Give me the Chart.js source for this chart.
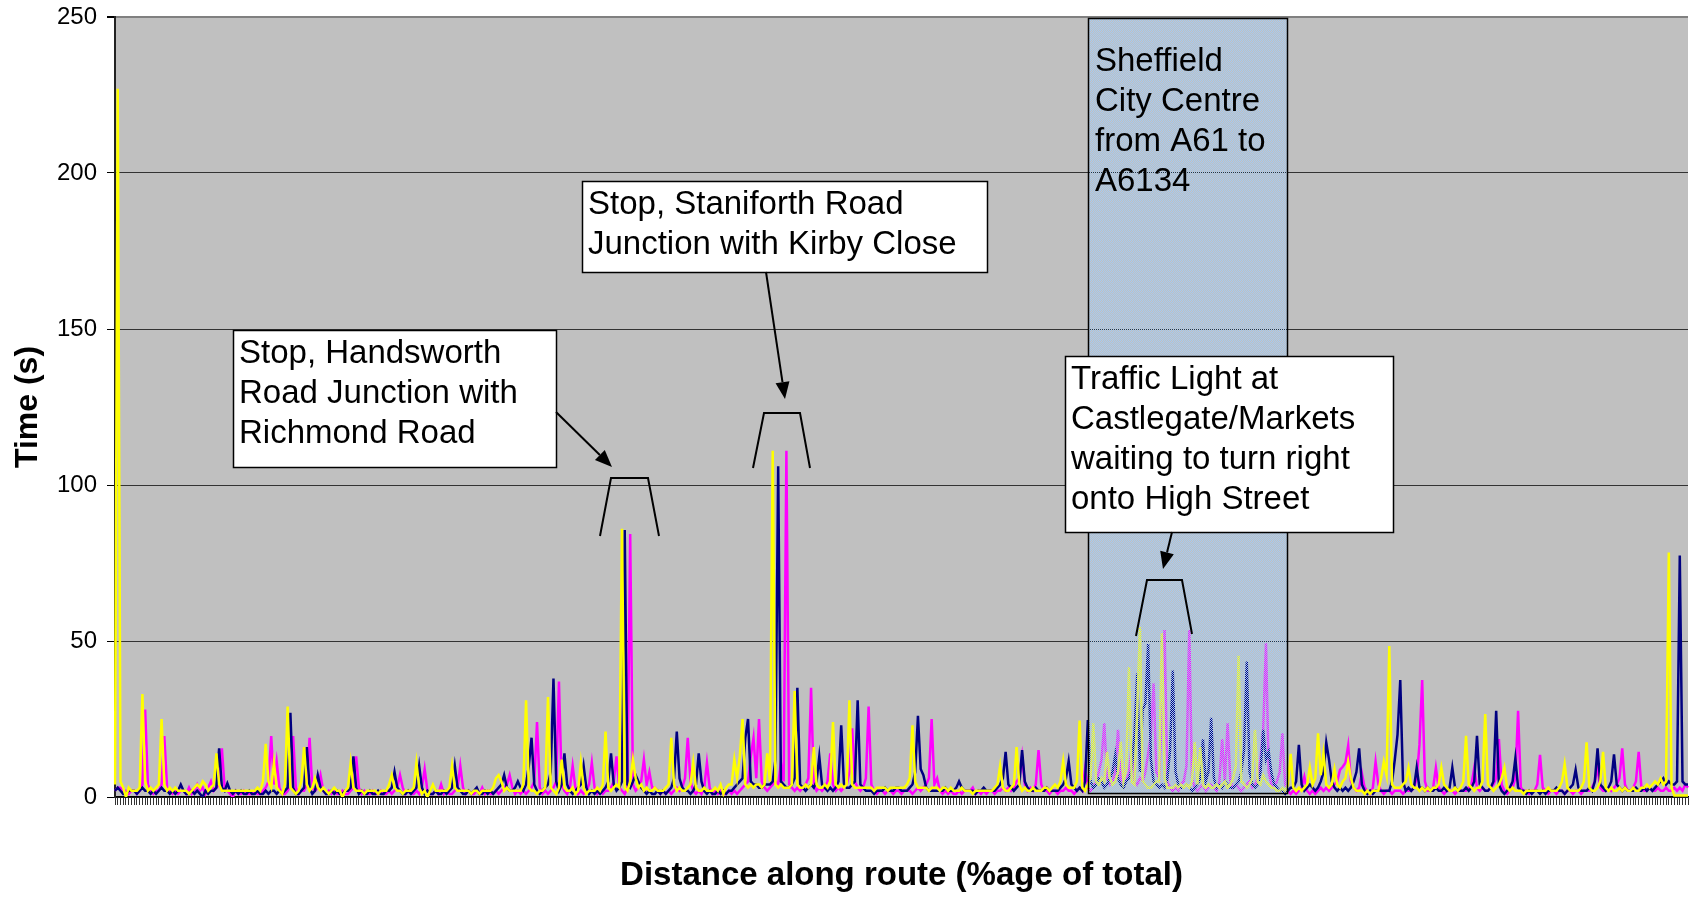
<!DOCTYPE html>
<html>
<head>
<meta charset="utf-8">
<script src="https://cdn.jsdelivr.net/npm/chart.js@4.4.1/dist/chart.umd.min.js"></script>
<style>
  html, body { margin: 0; padding: 0; background: #fff; }
  #wrap { width: 1690px; height: 897px; }
</style>
</head>
<body>
<div id="wrap"><canvas id="route-chart" width="1690" height="897"></canvas></div>
<script>
// time spent (s) at each sample along the route, three runs
const runYellow = [
  4,227,5,3,0,3,2,2,2,3,33,5,2,3,2,3,4,25,4,2,3,2,3,2,2,
  2,2,1,2,3,4,3,5,4,2,3,4,14,4,2,2,2,2,2,2,2,2,2,2,2,
  2,2,3,2,5,17,5,3,11,3,2,1,4,29,3,2,1,2,5,16,4,2,3,6,3,
  2,3,2,1,2,3,2,2,0,2,3,11,3,2,2,2,1,2,2,2,2,1,2,2,2,
  4,7,3,2,2,1,2,2,2,3,11,3,1,2,0,2,4,2,2,2,2,2,3,10,3,
  2,2,2,2,2,1,2,2,1,2,2,2,2,3,6,7,5,2,3,2,2,2,2,2,4,
  31,3,2,2,1,2,2,3,32,3,2,1,3,12,3,2,2,3,1,2,11,3,1,2,2,
  2,3,2,4,21,3,2,3,4,3,86,3,2,5,12,6,3,4,2,3,2,2,3,2,2,
  2,3,4,19,4,2,3,2,2,3,4,11,3,2,2,3,2,2,2,3,2,4,1,3,4,
  4,12,6,13,25,4,3,4,3,4,4,3,4,14,5,111,4,3,4,3,3,3,4,34,4,
  3,3,4,3,4,16,4,3,3,4,3,5,24,4,3,4,3,4,31,4,3,3,3,3,3,
  3,3,2,3,3,3,3,2,3,3,3,3,3,3,4,6,23,5,3,3,3,3,2,3,3,
  3,2,3,3,2,3,2,2,2,3,2,2,2,1,2,2,2,2,2,2,2,3,4,10,3,
  2,2,3,4,16,4,2,3,2,2,3,2,2,2,3,3,2,3,4,3,5,11.5,4,3,3,
  3,5,24.5,3,2,4,6,23.6,5,4,6,5,14.5,6,4,5,8,17.7,5,9,41.6,5,4,27,54.4,
  5,4,3,3,4,5,5,52.5,6,3,3,3,4,3,4,3,4,3,5,17.5,4,16,4,3,4,
  3,3,4,3,4,5,3,4,6,10,45.3,5,4,3,4,6,21.5,5,4,7,5,4,3,3,2,
  2,3,2,4,13.8,3,2,3,2,3,4,9.5,4,6,20.4,7,14,4,3,4,9,4,3,5,6,
  11.3,6,3,2,2,2,1,2,1,2,2,2,6,11.3,7,48.4,4,3,3,3,4,5,9.4,4,3,
  3,2,3,2,3,2,3,3,4,9.4,4,3,2,2,3,2,3,5,19.6,4,3,2,3,3,5,
  26.6,4,3,2,3,4,6,9.4,3,2,3,2,2,2,1,2,2,2,2,2,2,2,2,3,2,
  2,2,3,5,10.5,3,2,2,2,2,3,5,17.5,3,2,2,3,5,14.5,3,2,3,2,2,3,
  2,3,2,2,3,2,2,3,3,4,3,4,5,4,6,4,5,78.4,3,0.5,0.5,0.5,0.5,0.5,0.5
];

const runNavy = [
  2,3,2,1,1,2,2,2,1,2,3,2,2,1,2,1,2,3,2,2,1,2,1,2,4,
  2,1,1,2,1,2,1,0,2,1,2,2,3,15.6,3,2,4.4,2,1,2,1,2,1,1,2,
  1,1,2,1,1,2,1,2,2,1,2,1,2,3,27,3,1,1,2,3,16,3,1,2,7,
  3,2,1,1,2,1,2,1,1,2,2,3,13,3,1,2,1,1,2,1,1,2,1,1,2,
  2,3,8,3,2,1,1,2,1,2,3,10,3,1,2,1,1,2,1,1,2,1,2,3,10,
  3,2,1,1,2,1,2,3,1,1,2,1,2,1,2,3,4,7,3,2,2,3,5,3,2,
  4,10,19,4,2,1,2,3,4,8,38,5,2,4,14,4,2,1,2,3,4,10,3,1,2,
  1,2,1,2,3,5,14,4,2,3,5,85.6,4,3,5,7,5,3,2,1,2,1,1,2,1,
  2,1,2,3,6,21,6,3,2,2,1,2,4,14,5,2,1,2,1,1,2,1,2,1,2,
  2,3,4,5,6,19,25,5,4,4,3,3,4,4,4,5,12,106,5,4,3,3,4,6,35,
  4,3,2,3,4,3,5,13,4,3,2,3,2,3,5,23,4,3,3,4,5,31,4,3,2,
  2,2,1,2,2,2,3,2,2,2,3,3,2,2,2,3,4,8,26,9,7,3,2,2,2,
  2,2,2,3,2,2,2,3,5,3,2,2,2,2,1,2,2,3,2,2,2,2,3,4,6,
  14.5,4,3,2,3,4,15,5,3,2,2,3,2,2,2,3,2,2,2,2,3,4,6,11.5,4,
  3,2,3,2,5,24.7,5,3,4,6,5,3,4,6,8,13.5,6,4,3,5,6,9,20,39.6,8,
  28,30,49,12,5,4,3,4,3,6,15,40.5,8,4,3,3,4,3,2,3,4,6,18.5,5,8,
  25.4,6,3,4,3,5,4,3,3,4,5,8,15,43.4,8,4,3,4,8,21.5,12,14.5,7.6,4,3,
  2,2,1,2,3,3,5,16.7,4,2,3,4,3,2,3,5,8,17.5,12,5,3,2,3,2,3,
  2,3,5,8,15.6,4,2,1,2,1,2,2,2,2,2,2,5,11.9,20,37.5,5,2,3,2,3,
  9.4,3,3,2,3,2,2,3,2,2,3,2,3,9.4,3,2,2,2,3,2,3,5,19.6,4,3,
  2,2,3,5,27.6,4,2,1,2,3,5,12.4,3,2,2,1,2,1,2,2,1,2,1,2,2,
  2,3,2,2,1,2,3,4,8.7,3,2,2,2,3,2,5,15.6,4,3,2,3,5,13.7,4,3,
  2,3,2,2,2,3,2,2,3,2,3,2,3,4,5,6,4,5,4,4,5,77.4,5,4,4
];

const runMagenta = [
  2,3,3,2,2,1,2,2,1,2,4,28,4,2,1,2,2,4,19.5,3,2,1,2,1,2,
  2,1,3,1,2,4,2,3,1,3,5,2,3,4,15.6,3,2,1,0,2,1,1,2,1,1,
  1,2,1,1,2,3,5,19.5,4,11.3,3,1,1,2,4,19.5,3,1,2,2,4,19,3,2,3,
  7,2,1,2,1,2,1,1,2,1,1,2,3,13,3,1,2,1,1,2,1,1,2,1,1,
  2,1,2,3,7,3,1,2,1,1,2,1,3,9,2,1,1,2,1,4,1,2,1,1,2,
  3,10,3,1,2,1,1,2,1,3,1,2,1,1,2,1,2,3,4,7,3,1,2,1,2,
  1,2,3,5,24,3,1,2,1,2,3,5,37,4,2,1,3,10,3,1,2,1,2,4,11,
  3,1,2,1,2,2,3,5,13,3,2,1,3,84.3,4,2,3,5,12,4,8,3,3,2,1,
  2,1,2,1,2,3,2,3,6,19,5,2,1,2,1,3,11,3,1,2,1,2,1,1,2,
  1,2,1,2,3,4,5,13,19,6,25,5,3,2,3,4,5,4,11,5,111,4,3,2,3,
  2,3,4,6,35,4,2,3,2,3,5,14,4,2,3,2,3,4,8,22,5,3,2,3,6,
  29,4,2,1,2,2,1,2,2,1,2,2,1,2,2,2,1,2,3,2,3,4,6,25,4,
  6,2,1,2,1,2,1,1,2,1,2,2,2,3,1,2,1,2,1,2,2,1,2,2,3,
  2,3,2,3,5,6,13,4,2,3,2,4,15,4,2,2,1,2,2,1,2,2,3,2,2,
  1,2,3,2,9,3,2,3,5,8,12,23.6,6,4,5,8,21.5,6,4,5,8,16,5,4,6,
  5,8,14,20,36.4,8,6,27,53.5,5,3,2,3,2,4,5,10,53.5,6,3,2,3,4,2,3,
  4,3,2,5,18.5,5,23.6,5,3,4,3,2,3,4,5,3,4,6,12,22,49.3,8,4,3,5,
  8,20.4,4,2,1,2,1,2,3,6.5,2,1,2,1,2,3,2,3,2,3,4,5,8.7,9.7,11,
  16.5,5,3,2,3,7.6,3,2,1,3,11.3,4,2,1,2,2,1,2,2,2,1,2,2,2,3,
  6,16.7,37.5,5,2,2,3,9.4,3,2,1,2,2,2,1,2,2,2,2,3,4,9.4,3,2,3,
  2,2,3,4,6,18.6,4,2,1,2,3,6,27.6,3,2,2,1,2,2,4,13.5,3,2,1,2,
  2,1,2,2,1,2,2,1,2,2,1,2,2,2,3,5,9.4,3,2,2,3,2,3,4,6,
  15.6,4,2,2,3,5,14.5,3,2,2,3,2,2,3,2,2,3,2,2,3,2,3,2,4,3
];

// category labels: percentage of route length for each sample
const distance = runYellow.map((_, i) => (i / (runYellow.length - 1) * 100).toFixed(1));
const timeTicks = [0, 50, 100, 150, 200, 250];

// callouts, positioned in data units (sample index, seconds)
const cityBand = {
  box: [354.9, 249.7, 427.8, 1.3],
  lines: ['Sheffield', 'City Centre', 'from A61 to', 'A6134'],
};
const callouts = [
  {
    lines: ['Stop, Handsworth', 'Road Junction with', 'Richmond Road'],
    box: [43.1, 149.7, 160.9, 105.8],
    arrow: [160.9, 123.4, 181.4, 105.8],
    bracket: [177.0, 83.7, 181.0, 102.2, 194.5, 102.2, 198.5, 83.7],
  },
  {
    lines: ['Stop, Staniforth Road', 'Junction with Kirby Close'],
    box: [170.4, 197.4, 318.2, 168.3],
    arrow: [237.6, 168.3, 244.5, 127.6],
    bracket: [232.8, 105.4, 236.8, 123.1, 250.0, 123.1, 253.6, 105.4],
  },
  {
    lines: ['Traffic Light at', 'Castlegate/Markets', 'waiting to turn right', 'onto High Street'],
    box: [346.7, 141.3, 466.3, 84.9],
    arrow: [385.7, 84.9, 382.4, 73.1],
    bracket: [372.6, 51.6, 376.6, 69.6, 389.4, 69.6, 393.0, 52.2],
  },
];

const FONT = '"Liberation Sans", Arial, Helvetica, sans-serif';

// 50% dither used by the city centre band, drawn over the lines
const tile = document.createElement('canvas');
tile.width = 2;
tile.height = 2;
const tileCtx = tile.getContext('2d');
tileCtx.fillStyle = '#a6caf0';
tileCtx.fillRect(0, 0, 1, 1);
tileCtx.fillRect(1, 1, 1, 1);

const routeDecor = {
  id: 'routeDecor',
  beforeDraw(chart) {
    const { ctx, chartArea: a } = chart;
    ctx.save();
    ctx.fillStyle = '#c0c0c0';
    ctx.fillRect(a.left, a.top, a.right - a.left, a.bottom - a.top);
    ctx.restore();
  },
  afterDatasetsDraw(chart) {
    const { ctx, scales } = chart;
    const px = (v) => Math.round(scales.x.getPixelForValue(v));
    const py = (v) => Math.round(scales.y.getPixelForValue(v));

    ctx.save();
    ctx.font = '33px ' + FONT;
    ctx.textBaseline = 'middle';
    ctx.textAlign = 'left';

    // city centre band
    const [cx0, cy0, cx1, cy1] = cityBand.box;
    const L = px(cx0), T = py(cy0), R = px(cx1), B = py(cy1);
    ctx.fillStyle = ctx.createPattern(tile, 'repeat');
    ctx.fillRect(L, T, R - L, B - T);
    ctx.strokeStyle = '#000';
    ctx.lineWidth = 1.5;
    ctx.strokeRect(L + 0.5, T + 0.5, R - L, B - T);
    ctx.fillStyle = '#000';
    cityBand.lines.forEach((t, k) => ctx.fillText(t, L + 7, T + 44 + k * 40));

    callouts.forEach((c) => {
      const [bx0, by0, bx1, by1] = c.box;
      const l = px(bx0), t = py(by0), r = px(bx1), b = py(by1);
      ctx.fillStyle = '#fff';
      ctx.fillRect(l, t, r - l, b - t);
      ctx.strokeStyle = '#000';
      ctx.lineWidth = 1.5;
      ctx.strokeRect(l + 0.5, t + 0.5, r - l, b - t);
      ctx.fillStyle = '#000';
      c.lines.forEach((line, k) => ctx.fillText(line, l + 6, t + 24 + k * 40));

      // arrow with filled head
      const [ax0, ay0, ax1, ay1] = c.arrow;
      const sx = px(ax0), sy = py(ay0), ex = px(ax1), ey = py(ay1);
      const ang = Math.atan2(ey - sy, ex - sx);
      const head = 17, half = 7;
      const bxh = ex - head * Math.cos(ang), byh = ey - head * Math.sin(ang);
      ctx.lineWidth = 2;
      ctx.beginPath();
      ctx.moveTo(sx, sy);
      ctx.lineTo(bxh, byh);
      ctx.stroke();
      ctx.beginPath();
      ctx.moveTo(ex, ey);
      ctx.lineTo(bxh + half * Math.sin(ang), byh - half * Math.cos(ang));
      ctx.lineTo(bxh - half * Math.sin(ang), byh + half * Math.cos(ang));
      ctx.closePath();
      ctx.fill();

      // bracket over the peaks
      const k = c.bracket;
      ctx.lineWidth = 2;
      ctx.beginPath();
      ctx.moveTo(px(k[0]), py(k[1]));
      ctx.lineTo(px(k[2]), py(k[3]));
      ctx.lineTo(px(k[4]), py(k[5]));
      ctx.lineTo(px(k[6]), py(k[7]));
      ctx.stroke();
    });
    ctx.restore();
  },
};

const lineStyle = { borderWidth: 2.5, pointRadius: 0, tension: 0, fill: false };

new Chart(document.getElementById('route-chart'), {
  type: 'line',
  data: {
    labels: distance,
    datasets: [
      { label: 'Run 1', data: runYellow, borderColor: '#ffff00', ...lineStyle },
      { label: 'Run 2', data: runNavy, borderColor: '#000080', ...lineStyle },
      { label: 'Run 3', data: runMagenta, borderColor: '#ff00ff', ...lineStyle },
    ],
  },
  options: {
    responsive: false,
    animation: false,
    devicePixelRatio: 1,
    layout: { padding: { top: 17, right: 2, left: 0, bottom: 0 } },
    plugins: {
      legend: { display: false },
      tooltip: { enabled: false },
    },
    scales: {
      x: {
        type: 'category',
        afterFit: (scale) => {
          scale.height = 100;
          scale.paddingLeft = 0;
          scale.paddingRight = 0;
        },
        ticks: { display: false, autoSkip: false },
        grid: {
          display: true,
          drawOnChartArea: false,
          drawTicks: true,
          tickLength: 8,
          tickColor: '#333',
          lineWidth: 1,
        },
        border: { color: '#000', width: 1.5 },
        title: {
          display: true,
          text: 'Distance along route (%age of total)',
          color: '#000',
          font: { family: FONT, size: 33, weight: 'bold' },
          padding: { top: 0, bottom: 1 },
        },
      },
      y: {
        min: 0,
        max: 250,
        afterFit: (scale) => {
          scale.width = 115;
          scale.paddingTop = 0;
          scale.paddingBottom = 0;
        },
        afterBuildTicks: (scale) => { scale.ticks = timeTicks.map((v) => ({ value: v })); },
        ticks: {
          color: '#000',
          padding: 10,
          font: { family: FONT, size: 24 },
        },
        grid: {
          color: (c) => (c.tick && c.tick.value === 250 ? '#808080' : '#333'),
          lineWidth: (c) => (c.tick && c.tick.value === 250 ? 2 : 1),
          tickLength: 8,
          tickColor: '#000',
        },
        border: { color: '#222', width: 2 },
        title: {
          display: true,
          text: 'Time (s)',
          color: '#000',
          font: { family: FONT, size: 32, weight: 'bold' },
          padding: { top: 9, bottom: 0 },
        },
      },
    },
  },
  plugins: [routeDecor],
});
</script>
</body>
</html>
